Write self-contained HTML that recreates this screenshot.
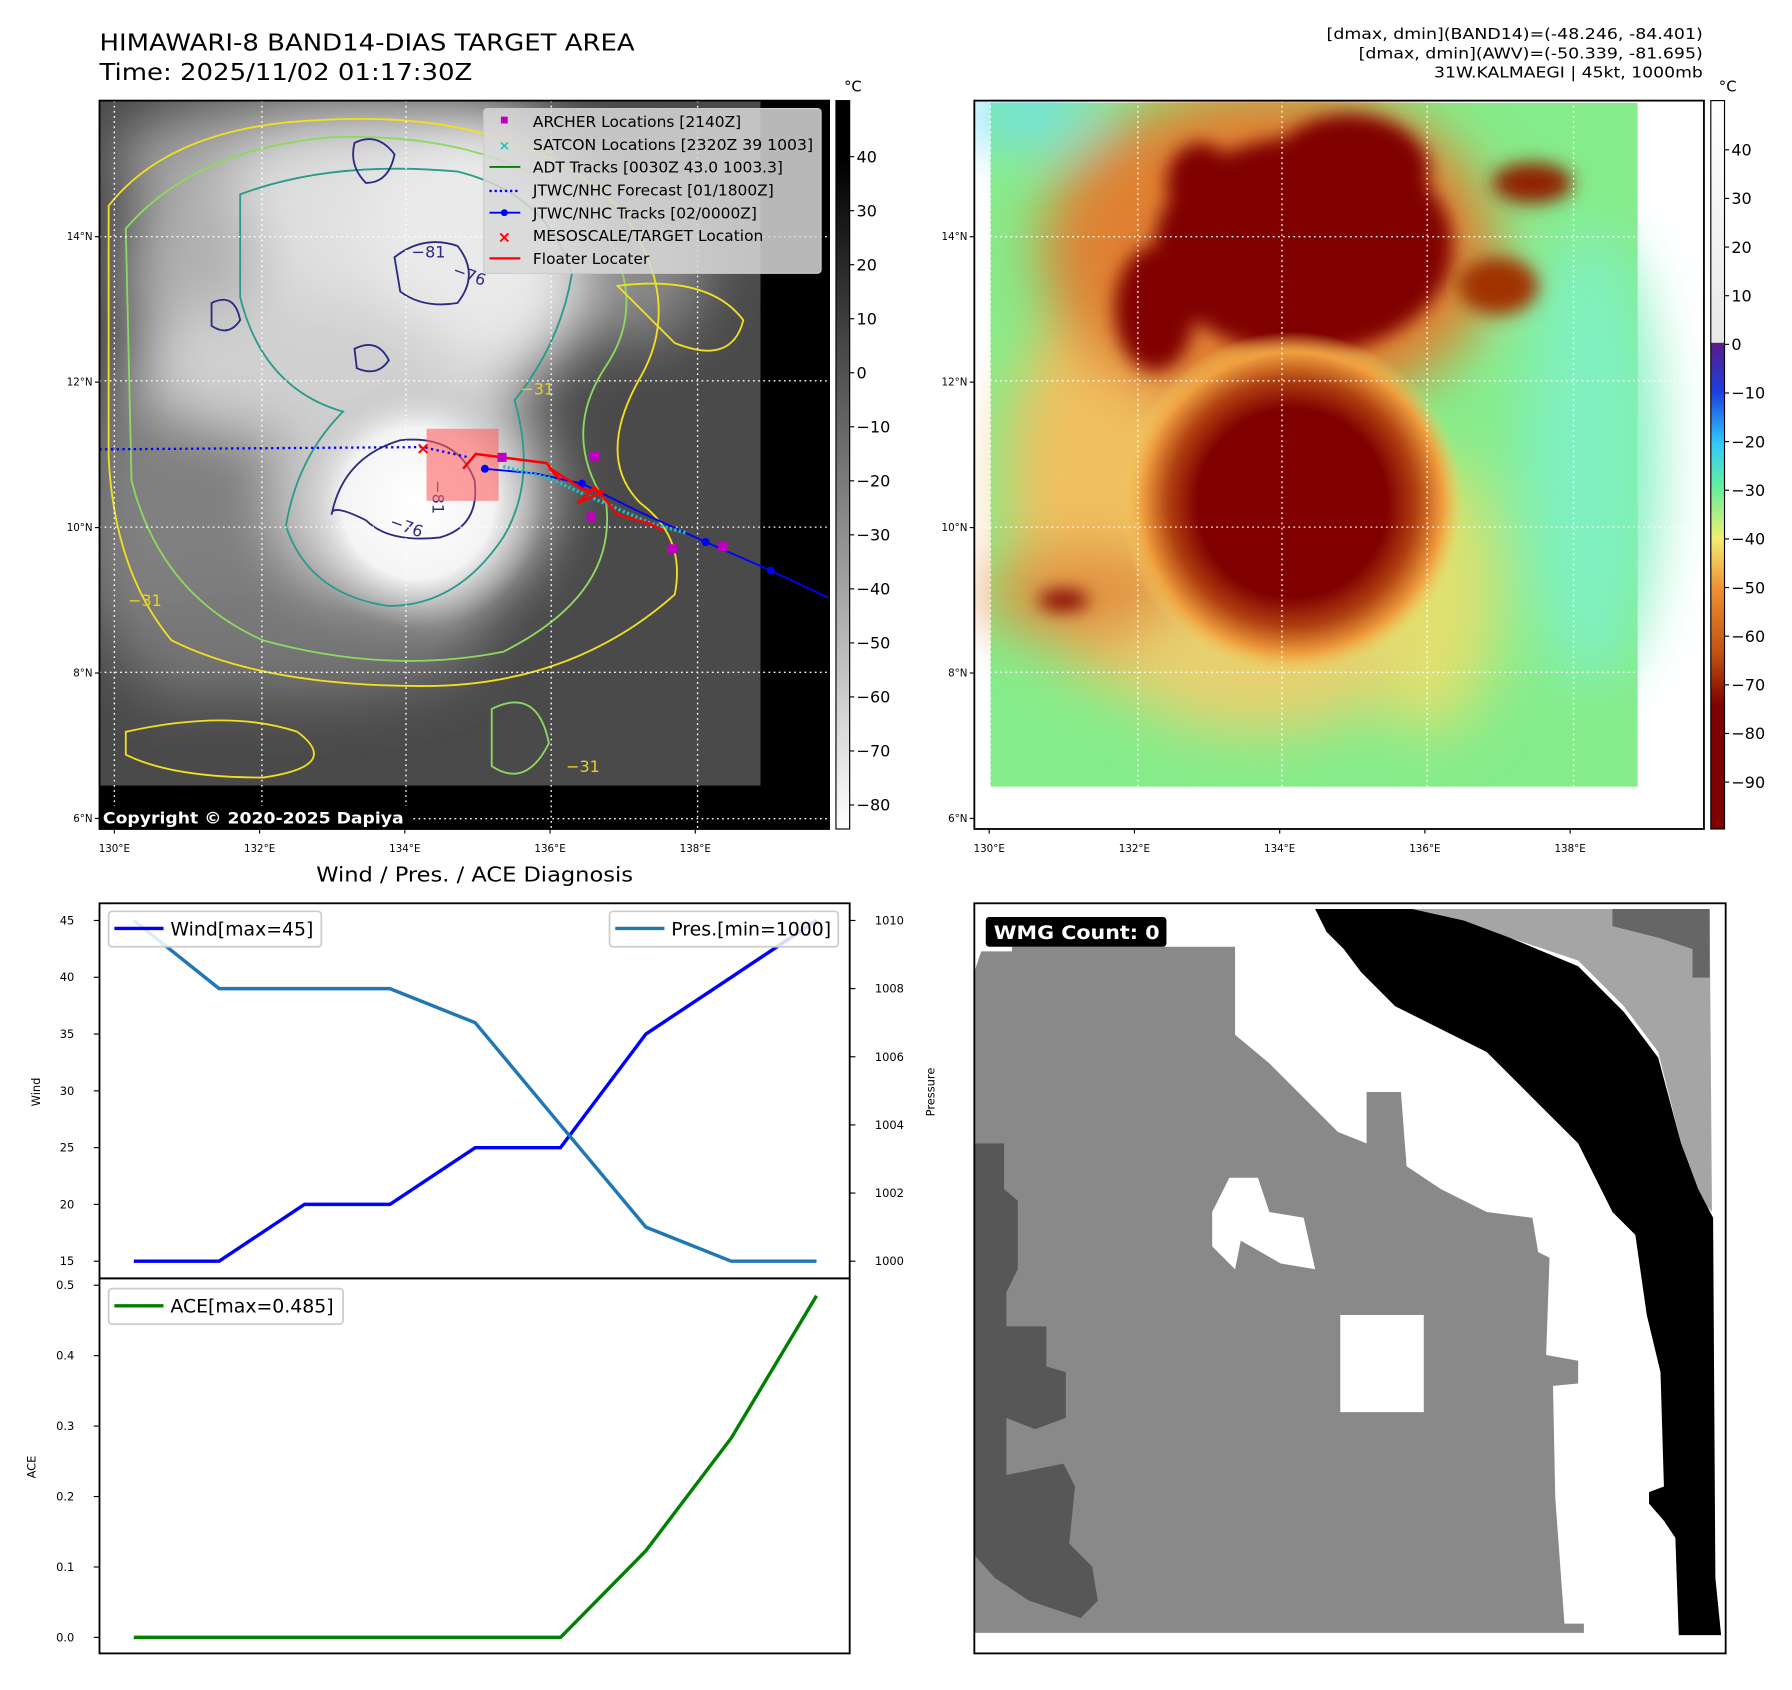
<!DOCTYPE html>
<html><head><meta charset="utf-8">
<style>
html,body{margin:0;padding:0;background:#fff;}
svg{display:block;font-family:"DejaVu Sans","Liberation Sans",sans-serif;}
</style></head>
<body>
<svg id="fig" width="1792" height="1690" viewBox="0 0 1567 1478" preserveAspectRatio="none" xmlns="http://www.w3.org/2000/svg">
<defs>
  <filter id="b8" x="-50%" y="-50%" width="200%" height="200%"><feGaussianBlur stdDeviation="8"/></filter>
  <filter id="b25" x="-50%" y="-50%" width="200%" height="200%"><feGaussianBlur stdDeviation="25"/></filter>
  <linearGradient id="cbGray" x1="0" y1="0" x2="0" y2="1">
    <stop offset="0" stop-color="#000"/><stop offset="0.08" stop-color="#000"/><stop offset="1" stop-color="#fff"/>
  </linearGradient>
  <linearGradient id="cbColor" x1="0" y1="0" x2="0" y2="1">
    <stop offset="0" stop-color="#ffffff"/><stop offset="0.332" stop-color="#e8e8e8"/>
    <stop offset="0.333" stop-color="#5a1a8a"/><stop offset="0.4" stop-color="#1a40e0"/>
    <stop offset="0.47" stop-color="#30c8ff"/><stop offset="0.53" stop-color="#60f0a0"/>
    <stop offset="0.6" stop-color="#f0f070"/><stop offset="0.67" stop-color="#f09030"/>
    <stop offset="0.76" stop-color="#c05010"/><stop offset="0.83" stop-color="#800000"/>
    <stop offset="1" stop-color="#800000"/>
  </linearGradient>
  <radialGradient id="cdoG"><stop offset="0" stop-color="#fff"/><stop offset="0.6" stop-color="#f4f4f4"/><stop offset="1" stop-color="#bbb" stop-opacity="0"/></radialGradient>
  <radialGradient id="cdoC"><stop offset="0" stop-color="#800000"/><stop offset="0.55" stop-color="#800000"/><stop offset="0.72" stop-color="#b04010"/><stop offset="0.88" stop-color="#f0a040"/><stop offset="1" stop-color="#f0d060" stop-opacity="0"/></radialGradient>
  <clipPath id="clipL"><rect x="87" y="88" width="638" height="637"/></clipPath>
  <clipPath id="clipR"><rect x="852" y="88" width="638" height="637"/></clipPath>
</defs>

<text x="87" y="44" font-size="20" textLength="468" lengthAdjust="spacingAndGlyphs">HIMAWARI-8 BAND14-DIAS TARGET AREA</text>
<text x="87" y="70" font-size="20" textLength="326" lengthAdjust="spacingAndGlyphs">Time: 2025/11/02 01:17:30Z</text>
<g font-size="13">
  <text x="1160" y="34" textLength="329" lengthAdjust="spacingAndGlyphs">[dmax, dmin](BAND14)=(-48.246, -84.401)</text>
  <text x="1188" y="51" textLength="301" lengthAdjust="spacingAndGlyphs">[dmax, dmin](AWV)=(-50.339, -81.695)</text>
  <text x="1254" y="68" textLength="235" lengthAdjust="spacingAndGlyphs">31W.KALMAEGI | 45kt, 1000mb</text>
</g>

<g clip-path="url(#clipL)">
  <rect x="87" y="88" width="638" height="637" fill="#000"/>
  <rect x="87" y="88" width="578" height="599" fill="#4a4a4a"/>
  <g filter="url(#b25)">
    <ellipse cx="300" cy="140" rx="200" ry="60" fill="#a0a0a0"/>
    <ellipse cx="170" cy="450" rx="100" ry="160" fill="#808080"/>
    <ellipse cx="330" cy="240" rx="190" ry="130" fill="#e0e0e0"/>
    <ellipse cx="420" cy="200" rx="100" ry="100" fill="#eaeaea"/>
    <ellipse cx="170" cy="240" rx="60" ry="90" fill="#b0b0b0"/>
    <ellipse cx="260" cy="320" rx="140" ry="60" fill="#d0d0d0"/>
    <ellipse cx="360" cy="430" rx="120" ry="110" fill="#cfcfcf"/>
    <ellipse cx="260" cy="560" rx="160" ry="50" fill="#777"/>
    <ellipse cx="560" cy="220" rx="60" ry="80" fill="#8a8a8a"/>
  </g>
  <circle cx="365" cy="440" r="110" fill="url(#cdoG)"/>
  <g fill="none" stroke-width="1.6">
    <path d="M95,180 Q150,110 280,105 Q450,95 540,180 Q600,260 560,330 Q520,400 560,440 Q600,470 590,520 Q500,600 370,600 Q230,600 150,560 Q100,500 95,400 Z" stroke="#f0e020"/>
    <path d="M110,200 Q170,130 290,120 Q440,115 520,190 Q570,260 530,320 Q490,380 530,440 Q540,520 440,570 Q340,590 230,560 Q140,520 115,420 Z" stroke="#8ed860"/>
    <path d="M210,170 Q290,140 400,150 Q480,170 500,240 Q490,300 450,350 Q470,420 440,470 Q400,530 340,530 Q270,520 250,460 Q260,400 300,360 Q230,340 210,260 Z" stroke="#2a9a8a"/>
    <path d="M290,450 Q300,400 350,385 Q400,380 415,420 Q420,460 385,470 Q340,475 320,455 Q290,440 290,450 Z" stroke="#2a2a80"/>
    <path d="M345,225 Q370,205 400,215 Q420,240 400,265 Q370,270 350,255 Z" stroke="#2a2a80"/>
    <path d="M310,125 Q330,115 345,135 Q340,160 320,160 Q305,145 310,125 Z" stroke="#2a2a80"/>
    <path d="M185,265 Q205,255 210,280 Q200,295 185,285 Z" stroke="#2a2a80"/>
    <path d="M310,305 Q330,295 340,315 Q330,330 312,322 Z" stroke="#2a2a80"/>
    <path d="M430,620 Q470,600 480,650 Q460,690 430,670 Z" stroke="#8ed860"/>
    <path d="M110,640 Q200,620 260,640 Q300,670 230,680 Q150,680 110,660 Z" stroke="#f0e020"/>
    <path d="M540,250 Q620,240 650,280 Q640,320 590,300 Z" stroke="#f0e020"/>
  </g>
  <g font-size="14">
    <text x="395" y="240" fill="#2a2a80" transform="rotate(20 395 240)">−76</text>
    <text x="360" y="225" fill="#2a2a80">−81</text>
    <text x="340" y="460" fill="#2a2a80" transform="rotate(20 340 460)">−76</text>
    <text x="378" y="420" fill="#2a2a80" transform="rotate(90 378 420)">−81</text>
    <text x="112" y="530" fill="#e8d020">−31</text>
    <text x="495" y="675" fill="#e8d020">−31</text>
    <text x="455" y="345" fill="#e8d020">−31</text>
  </g>
  <g stroke="#fff" stroke-dasharray="1.5,3" stroke-width="1.2">
    <line x1="100" y1="88" x2="100" y2="725"/><line x1="229" y1="88" x2="229" y2="725"/><line x1="355" y1="88" x2="355" y2="725"/><line x1="482" y1="88" x2="482" y2="725"/><line x1="610" y1="88" x2="610" y2="725"/>
    <line x1="87" y1="207" x2="725" y2="207"/><line x1="87" y1="333" x2="725" y2="333"/><line x1="87" y1="461" x2="725" y2="461"/><line x1="87" y1="588" x2="725" y2="588"/><line x1="87" y1="716" x2="725" y2="716"/>
  </g>
  <rect x="373" y="375" width="63" height="63" fill="#ff6060" fill-opacity="0.6"/>
  <polyline points="87,393 370,391 410,400" fill="none" stroke="#0000ff" stroke-width="2" stroke-dasharray="2,3"/>
  <polyline points="424,410 468,414 509,423 560,448 617,474 674,499 725,523" fill="none" stroke="#0000ff" stroke-width="1.6"/>
  <g fill="#0000ff"><circle cx="424" cy="410" r="3.5"/><circle cx="509" cy="423" r="3.5"/><circle cx="617" cy="474" r="3.5"/><circle cx="674" cy="499" r="3.5"/></g>
  <polyline points="440,408 480,418 510,432 540,445 570,458 600,466" fill="none" stroke="#20c0c0" stroke-width="3" stroke-dasharray="2,2"/>
  <polyline points="405,410 416,397 478,405 490,420 480,409 510,428 527,430 505,440 520,426 540,450 568,458 580,464" fill="none" stroke="#ff0000" stroke-width="2.2"/>
  <g fill="#c000c0">
    <rect x="435" y="396" width="8" height="8"/><rect x="516" y="395" width="8" height="8"/><rect x="513" y="448" width="8" height="8"/><rect x="584" y="476" width="8" height="8"/><rect x="628" y="474" width="8" height="8"/>
  </g>
  <text x="370" y="397" font-size="15" fill="#ff0000" font-weight="bold" text-anchor="middle">×</text>
  <rect x="87" y="705" width="272" height="20" fill="#000"/>
  <text x="90" y="720" font-size="14" font-weight="bold" fill="#fff" textLength="263" lengthAdjust="spacingAndGlyphs">Copyright © 2020-2025 Dapiya</text>
</g>
<rect x="87" y="88" width="638" height="637" fill="none" stroke="#000" stroke-width="1.6"/>

<g font-size="13.5">
  <rect x="423" y="95" width="295" height="144" rx="3" fill="#d8d8d8" fill-opacity="0.85" stroke="#ccc"/>
  <rect x="438" y="102" width="6" height="6" fill="#c000c0"/><text x="466" y="111">ARCHER Locations [2140Z]</text>
  <text x="441" y="131" fill="#20c0c0" font-size="12" text-anchor="middle" font-weight="bold">×</text><text x="466" y="131" textLength="245" lengthAdjust="spacingAndGlyphs">SATCON Locations [2320Z 39 1003]</text>
  <line x1="428" y1="146" x2="455" y2="146" stroke="#008000" stroke-width="1.6"/><text x="466" y="151">ADT Tracks [0030Z 43.0 1003.3]</text>
  <line x1="428" y1="167" x2="455" y2="167" stroke="#0000ff" stroke-width="2" stroke-dasharray="2,2.5"/><text x="466" y="171">JTWC/NHC Forecast [01/1800Z]</text>
  <line x1="428" y1="186" x2="455" y2="186" stroke="#0000ff" stroke-width="1.6"/><circle cx="441" cy="186" r="3" fill="#0000ff"/><text x="466" y="191">JTWC/NHC Tracks [02/0000Z]</text>
  <text x="441" y="212" fill="#ff0000" font-size="14" text-anchor="middle" font-weight="bold">×</text><text x="466" y="211">MESOSCALE/TARGET Location</text>
  <line x1="428" y1="226" x2="455" y2="226" stroke="#ff0000" stroke-width="2"/><text x="466" y="231">Floater Locater</text>
</g>

<g font-size="14">
  <rect x="731" y="88" width="12" height="637" fill="url(#cbGray)" stroke="#000" stroke-width="1"/>
  <text x="738" y="80" font-size="13">°C</text>
  <g id="cbLticks"></g>
</g>

<g clip-path="url(#clipR)">
  <rect x="852" y="88" width="638" height="637" fill="#fff"/>
  <rect x="866" y="90" width="566" height="598" fill="#86ec8a"/>
  <g filter="url(#b25)">
    <ellipse cx="900" cy="100" rx="60" ry="25" fill="#70e0f0"/>
    <ellipse cx="1390" cy="400" rx="60" ry="200" fill="#80f0c0"/>
    <ellipse cx="990" cy="420" rx="110" ry="180" fill="#f0c060"/>
    <ellipse cx="1110" cy="220" rx="200" ry="145" fill="#e08030"/>
    <ellipse cx="1250" cy="520" rx="60" ry="120" fill="#e0e070"/>
    <ellipse cx="950" cy="520" rx="90" ry="40" fill="#e09040"/>
    <ellipse cx="1100" cy="580" rx="120" ry="60" fill="#e8d070"/>
  </g>
  <g filter="url(#b8)">
    <ellipse cx="1140" cy="215" rx="130" ry="95" fill="#800000"/>
    <ellipse cx="1010" cy="270" rx="35" ry="55" fill="#800000"/>
    <ellipse cx="1050" cy="160" rx="30" ry="35" fill="#800000"/>
    <ellipse cx="1180" cy="150" rx="70" ry="50" fill="#800000"/>
    <ellipse cx="1340" cy="160" rx="35" ry="18" fill="#902000"/>
    <ellipse cx="1310" cy="250" rx="35" ry="25" fill="#a03000"/>
    <ellipse cx="930" cy="525" rx="22" ry="9" fill="#800000"/>
  </g>
  <circle cx="1130" cy="440" r="150" fill="url(#cdoC)"/>
  <g stroke="#fff" stroke-dasharray="1.5,3" stroke-width="1.2">
    <line x1="866" y1="88" x2="866" y2="725"/><line x1="995" y1="88" x2="995" y2="725"/><line x1="1121" y1="88" x2="1121" y2="725"/><line x1="1248" y1="88" x2="1248" y2="725"/><line x1="1376" y1="88" x2="1376" y2="725"/>
    <line x1="852" y1="207" x2="1490" y2="207"/><line x1="852" y1="333" x2="1490" y2="333"/><line x1="852" y1="461" x2="1490" y2="461"/><line x1="852" y1="588" x2="1490" y2="588"/><line x1="852" y1="716" x2="1490" y2="716"/>
  </g>
</g>
<rect x="852" y="88" width="638" height="637" fill="none" stroke="#000" stroke-width="1.6"/>
<g font-size="14">
  <rect x="1496" y="88" width="12" height="637" fill="url(#cbColor)" stroke="#000" stroke-width="1"/>
  <text x="1503" y="80" font-size="13">°C</text>
  <g id="cbRticks"></g>
</g>

<g id="mapTicks" font-size="9"></g>

<text x="415" y="771" font-size="18" text-anchor="middle" textLength="277" lengthAdjust="spacingAndGlyphs">Wind / Pres. / ACE Diagnosis</text>
<g id="chart"></g>

<g>
  <rect x="852" y="790" width="657" height="656" fill="#fff"/>
  <polygon fill="#898989" points="852,850 858,832 885,832 885,828 1080,828 1080,905 1110,930 1140,960 1170,990 1195,1000 1195,955 1225,955 1230,1020 1260,1040 1300,1060 1340,1065 1345,1095 1355,1100 1352,1185 1380,1190 1380,1210 1358,1212 1360,1310 1368,1420 1385,1420 1385,1428 852,1428"/>
  <polygon fill="#fff" points="1172,1150 1245,1150 1245,1235 1172,1235"/>
  <polygon fill="#fff" points="1060,1060 1075,1030 1100,1030 1110,1060 1140,1065 1150,1110 1120,1105 1085,1085 1080,1110 1060,1090"/>
  <polygon fill="#575757" points="852,1000 878,1000 878,1040 890,1050 890,1110 880,1130 880,1160 915,1160 915,1195 932,1200 932,1240 905,1250 880,1240 880,1290 930,1280 940,1300 935,1350 955,1370 960,1400 945,1415 900,1400 870,1380 852,1360"/>
  <polygon fill="#a5a5a5" points="1235,795 1495,795 1497,1060 1480,1040 1470,1000 1450,920 1420,880 1380,840 1320,820 1280,805"/>
  <polygon fill="#666" points="1410,795 1495,795 1495,855 1480,855 1480,830 1450,820 1410,810"/>
  <polygon fill="#000" points="1150,795 1235,795 1280,805 1320,820 1380,845 1420,885 1450,925 1470,1000 1485,1040 1498,1065 1500,1380 1505,1430 1468,1430 1465,1345 1455,1330 1442,1315 1442,1305 1455,1300 1452,1200 1440,1150 1430,1080 1410,1060 1380,1000 1340,960 1300,920 1260,900 1220,880 1190,850 1175,830 1160,815"/>
  <rect x="862" y="802" width="158" height="26" rx="3" fill="#000"/>
  <text x="869" y="821" font-size="16.5" font-weight="bold" fill="#fff" textLength="145" lengthAdjust="spacingAndGlyphs">WMG Count: 0</text>
  <rect x="852" y="790" width="657" height="656" fill="none" stroke="#000" stroke-width="1.6"/>
</g>

<script>
var windValues = [15, 15, 20, 20, 25, 25, 35, 40, 45];
var presValues = [1010, 1008, 1008, 1008, 1007, 1004, 1001, 1000, 1000];
var aceValues = [0, 0, 0, 0, 0, 0, 0.123, 0.283, 0.485];
var windTicks = [15, 20, 25, 30, 35, 40, 45];
var presTicks = [1000, 1002, 1004, 1006, 1008, 1010];
var aceTicks = [0.0, 0.1, 0.2, 0.3, 0.4, 0.5];
var leftCbTicks = [40, 30, 20, 10, 0, -10, -20, -30, -40, -50, -60, -70, -80];
var rightCbTicks = [40, 30, 20, 10, 0, -10, -20, -30, -40, -50, -60, -70, -80, -90];
var lonTicks = [130, 132, 134, 136, 138];
var latTicks = [14, 12, 10, 8, 6];

var NS = "http://www.w3.org/2000/svg";
function mk(tag, attrs, parent) {
  var e = document.createElementNS(NS, tag);
  for (var k in attrs) e.setAttribute(k, attrs[k]);
  parent.appendChild(e);
  return e;
}
function fmt(v) { return v < 0 ? "\u2212" + Math.abs(v) : "" + v; }

function xIdx(i) { return 117 + i * (714 - 117) / (windValues.length - 1); }
function yWind(v) { return 1103 + (v - 15) * (805 - 1103) / 30; }
function yPres(v) { return 1103 + (v - 1000) * (805 - 1103) / 10; }
function yAce(v) { return 1432 + v * (1124 - 1432) / 0.5; }
function xLon(l) { return 100 + (l - 130) * 63.5; }
function yLat(l) { return 207 + (14 - l) * 63.6; }
function yCbL(v) { return 137 + (40 - v) * (704 - 137) / 120; }
function yCbR(v) { return 131 + (40 - v) * (684 - 131) / 130; }

var chart = document.getElementById('chart');
var ax1 = mk('g', {}, chart);


var ax2 = mk('g', {}, chart);



function line(vals, xf, yf, color, parent, name) {
  var pts = vals.map(function (v, i) { return xf(i).toFixed(1) + ',' + yf(v).toFixed(1); }).join(' ');
  var p = mk('polyline', { points: pts, fill: 'none', stroke: color, 'stroke-width': 3 }, parent);
  
  
}
line(windValues, xIdx, yWind, '#0000ff', ax1, 'wind-line');
line(presValues, xIdx, yPres, '#1f77b4', ax1, 'pressure-line');
line(aceValues, xIdx, yAce, '#008000', ax2, 'ace-line');

mk('rect', { x: 87, y: 790, width: 656, height: 328, fill: 'none', stroke: '#000', 'stroke-width': 1.6 }, ax1);
mk('rect', { x: 87, y: 1118, width: 656, height: 328, fill: 'none', stroke: '#000', 'stroke-width': 1.6 }, ax2);

windTicks.forEach(function (v) {
  var y = yWind(v);
  mk('line', { x1: 82, y1: y, x2: 87, y2: y, stroke: '#000' }, ax1);
  var t = mk('text', { x: 65, y: y + 3.5, 'font-size': 10, 'text-anchor': 'end' }, ax1); t.textContent = v;
});
presTicks.forEach(function (v) {
  var y = yPres(v);
  mk('line', { x1: 743, y1: y, x2: 748, y2: y, stroke: '#000' }, ax1);
  var t = mk('text', { x: 765, y: y + 3.5, 'font-size': 10 }, ax1); t.textContent = v;
});
aceTicks.forEach(function (v) {
  var y = yAce(v);
  mk('line', { x1: 82, y1: y, x2: 87, y2: y, stroke: '#000' }, ax2);
  var t = mk('text', { x: 65, y: y + 3.5, 'font-size': 10, 'text-anchor': 'end' }, ax2); t.textContent = v.toFixed(1);
});
var yl = mk('text', { x: 0, y: 0, 'font-size': 10, 'text-anchor': 'middle', transform: 'translate(35,955) rotate(-90)' }, ax1); yl.textContent = 'Wind';


var pl = mk('text', { x: 0, y: 0, 'font-size': 10, 'text-anchor': 'middle', transform: 'translate(817,955) rotate(-90)' }, ax1); pl.textContent = 'Pressure';


var al = mk('text', { x: 0, y: 0, 'font-size': 10, 'text-anchor': 'middle', transform: 'translate(31,1283) rotate(-90)' }, ax2); al.textContent = 'ACE';



function legend(parent, x, y, w, color, label, name) {
  var g = mk('g', {}, parent);
  
  
  mk('rect', { x: x, y: y, width: w, height: 31, rx: 3, fill: '#fff', 'fill-opacity': 0.85, stroke: '#ccc', 'stroke-width': 1.5 }, g);
  mk('line', { x1: x + 5, y1: y + 15, x2: x + 48, y2: y + 15, stroke: color, 'stroke-width': 3 }, g);
  var t = mk('text', { x: x + 54, y: y + 21, 'font-size': 16.5 }, g); t.textContent = label;
}
legend(ax1, 95, 797, 186, '#0000ff', 'Wind[max=45]', 'wind-legend');
legend(ax1, 533, 797, 200, '#1f77b4', 'Pres.[min=1000]', 'pressure-legend');
legend(ax2, 95, 1127, 205, '#008000', 'ACE[max=0.485]', 'ace-legend');

var cbL = document.getElementById('cbLticks');
leftCbTicks.forEach(function (v) {
  var y = yCbL(v);
  mk('line', { x1: 743, y1: y, x2: 747, y2: y, stroke: '#000' }, cbL);
  var t = mk('text', { x: 749, y: y + 5 }, cbL); t.textContent = fmt(v);
});
var cbR = document.getElementById('cbRticks');
rightCbTicks.forEach(function (v) {
  var y = yCbR(v);
  mk('line', { x1: 1508, y1: y, x2: 1512, y2: y, stroke: '#000' }, cbR);
  var t = mk('text', { x: 1514, y: y + 5 }, cbR); t.textContent = fmt(v);
});

var mt = document.getElementById('mapTicks');
[[0, 87], [765, 852]].forEach(function (m) {
  lonTicks.forEach(function (l) {
    var x = xLon(l) + m[0];
    mk('line', { x1: x, y1: 725, x2: x, y2: 729, stroke: '#000' }, mt);
    var t = mk('text', { x: x, y: 745, 'text-anchor': 'middle' }, mt); t.textContent = l + '°E';
  });
  latTicks.forEach(function (l) {
    var y = yLat(l);
    mk('line', { x1: m[1] - 4, y1: y, x2: m[1], y2: y, stroke: '#000' }, mt);
    var t = mk('text', { x: m[1] - 6, y: y + 3, 'text-anchor': 'end' }, mt); t.textContent = l + '°N';
  });
});
</script>
</svg>
</body></html>
